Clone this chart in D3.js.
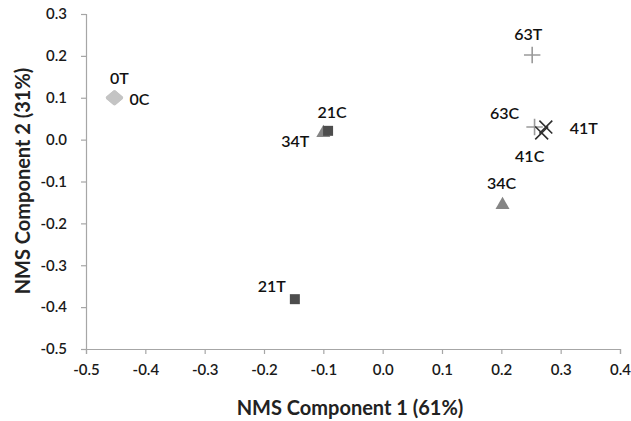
<!DOCTYPE html>
<html><head><meta charset="utf-8">
<script src="https://cdn.jsdelivr.net/npm/d3@7"></script>
<style>
html,body{margin:0;padding:0;background:#fff;}
svg{display:block;font-family:Lato,"Open Sans",sans-serif;}
</style></head>
<body><svg id="c" width="631" height="421"></svg>
<script>
// ---- data ----
const pointNames = ["0T","0C","34T","21C","21T","34C","63T","63C","41T","41C"];
const xValues    = [-0.452,-0.452,-0.100,-0.092,-0.148,0.202,0.252,0.256,0.275,0.268];
const yValues    = [0.100,0.100,0.016,0.021,-0.381,-0.156,0.202,0.030,0.030,0.016];
const groups     = ["0","0","34","21","21","34","63","63","41","41"];
const xTicks = [-0.5,-0.4,-0.3,-0.2,-0.1,0.0,0.1,0.2,0.3,0.4];
const yTicks = [-0.5,-0.4,-0.3,-0.2,-0.1,0.0,0.1,0.2,0.3];
const xTitle = "NMS Component 1 (61%)";
const yTitle = "NMS Component 2 (31%)";

// ---- style ----
const wideDiamond = {draw(ctx, size){ const w=Math.sqrt(size)*0.75, h=w*0.85;
  ctx.moveTo(-w,0); ctx.lineTo(0,-h); ctx.lineTo(w,0); ctx.lineTo(0,h); ctx.closePath(); }};
const groupStyle = {
  "0":  {sym: wideDiamond,      size: 90,  fill: "#c4c4c4", stroke: "#c4c4c4"},
  "21": {sym: d3.symbolSquare,  size: 100, fill: "#4d4d4d", stroke: "none"},
  "34": {sym: d3.symbolTriangle,size: 85,  fill: "#858585", stroke: "none"},
  "41": {sym: d3.symbolTimes || d3.symbolX, size: 110, fill: "none", stroke: "#2e2e2e"},
  "63": {sym: d3.symbolPlus,    size: 90,  fill: "none", stroke: "#9a9a9a"}
};
const labelOffset = {
  "0T":[5,-20], "0C":[25,1], "21C":[4,-19], "34T":[-28,8], "21T":[-23,-14],
  "34C":[-1,-22], "63T":[-4,-22], "63C":[-30,-15], "41T":[38,0], "41C":[-12,23]
};

const svg = d3.select("#c");
const x = d3.scaleLinear().domain([-0.5,0.4]).range([86,620]);
const y = d3.scaleLinear().domain([-0.5,0.3]).range([349,14]);
const fmt = d => (Math.abs(d) < 1e-9 ? 0 : d).toFixed(1);

const gx = svg.append("g").attr("transform","translate(0,349)")
  .call(d3.axisBottom(x).tickValues(xTicks).tickFormat(fmt).tickSizeOuter(0).tickSize(5).tickPadding(10));
const gy = svg.append("g").attr("transform","translate(86,0)")
  .call(d3.axisLeft(y).tickValues(yTicks).tickFormat(fmt).tickSizeOuter(0).tickSize(5).tickPadding(14));
[gx,gy].forEach(g=>{
  g.select(".domain").attr("stroke","#a6a6a6").attr("stroke-width",1.2);
  g.selectAll(".tick line").attr("stroke","#a6a6a6").attr("stroke-width",1.2);
  g.selectAll(".tick text").attr("fill","#1a1a1a").style("font-size","15px")
   .style("font-weight","600").style("font-family","Lato,'Open Sans',sans-serif");
});

const data = pointNames.map((n,i)=>({name:n,x:xValues[i],y:yValues[i],g:groups[i]}));
svg.append("g").selectAll("path").data(data).join("path")
  .attr("transform",d=>`translate(${x(d.x)},${y(d.y)})`)
  .attr("d",d=>d3.symbol().type(groupStyle[d.g].sym).size(groupStyle[d.g].size)())
  .attr("fill",d=>groupStyle[d.g].fill)
  .attr("stroke",d=>groupStyle[d.g].stroke)
  .attr("stroke-linejoin","round")
  .attr("stroke-width",d=>d.g==="0"?3:1.6);

svg.append("g").selectAll("text").data(data).join("text")
  .attr("x",d=>x(d.x)+labelOffset[d.name][0])
  .attr("y",d=>y(d.y)+labelOffset[d.name][1])
  .attr("text-anchor","middle").attr("dominant-baseline","central")
  .style("font-size","16px").style("font-weight","600").attr("fill","#111")
  .text(d=>d.name);

svg.append("text").attr("x",350).attr("y",415).attr("text-anchor","middle")
  .style("font-size","20px").style("font-weight","bold").attr("fill","#222").text(xTitle);
svg.append("text").attr("transform","translate(22,181) rotate(-90)").attr("text-anchor","middle")
  .attr("dominant-baseline","central")
  .style("font-size","20px").style("font-weight","bold").attr("fill","#222").text(yTitle);
</script></body></html>
